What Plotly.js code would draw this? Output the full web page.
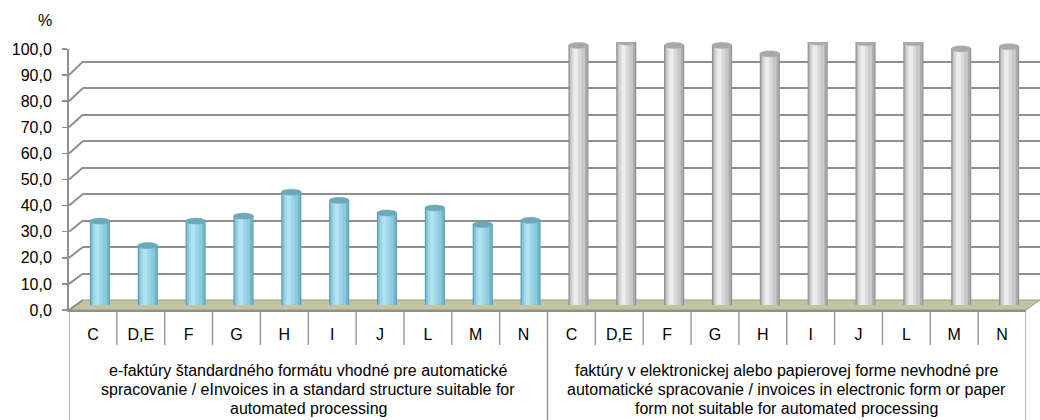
<!DOCTYPE html>
<html>
<head>
<meta charset="utf-8">
<script src="https://cdn.plot.ly/plotly-3.0.1.min.js"></script>
<style>html,body{margin:0;padding:0;background:#fff;}#chart{width:1040px;height:420px;}</style>
</head>
<body>
<div id="chart"></div>
<script>
// ---- data ----
const categories = ['C', 'D,E', 'F', 'G', 'H', 'I', 'J', 'L', 'M', 'N'];
const groupLabels = [
  'e-faktúry štandardného formátu vhodné pre automatické<br>spracovanie / eInvoices in a standard structure suitable for<br>automated processing',
  'faktúry v elektronickej alebo papierovej forme nevhodné pre<br>automatické spracovanie / invoices in electronic form or paper<br>form not suitable for automated processing'
];
const suitable    = [31.9, 22.6, 31.9, 33.8, 42.9, 39.8, 35.0, 36.9, 30.6, 32.2];
const notSuitable = [98.7, 100.0, 98.7, 98.7, 95.5, 100.0, 99.8, 99.8, 97.4, 98.2];
const yTicks = [0, 10, 20, 30, 40, 50, 60, 70, 80, 90, 100];
const yAxisLabel = '%';

// ---- layout geometry ----
const W = 1040, H = 420;
const L = 69, R = 0, T = 35, B = 110;
const PW = W - L - R, PH = H - T - B;   // 971 x 275
const FONT = 'Arial, "Liberation Sans", sans-serif';
const GRID = '#8f8f8f';

const nCat = categories.length;
const xsA = categories.map((_, i) => i);
const xsB = categories.map((_, i) => i + nCat);
const allX = xsA.concat(xsB);
const allText = categories.concat(categories);
const xRange = [-0.5, 2 * nCat - 0.5];

const traces = [];
// cylinder shading layers: [width, offset]
const layers = [[0.42, -0.21], [0.38, -0.19], [0.31, -0.17], [0.20, -0.14], [0.09, -0.10]];
function cylinder(xs, ys, colors) {
  layers.forEach((ly, k) => {
    traces.push({type: 'bar', x: xs, y: ys, xaxis: 'x2', yaxis: 'y2', width: ly[0], offset: ly[1],
      marker: {color: colors[k], line: {width: 0}}, hoverinfo: 'skip', showlegend: false});
  });
}
cylinder(xsA, suitable, ['#5d9cb0', '#74b5c9', '#8acbde', '#9cd6e7', '#b0e2ef']);
cylinder(xsB, notSuitable, ['#8e8e8e', '#ababab', '#c8c8c8', '#dadada', '#ececec']);

// dummy traces to activate back wall & front axes
traces.push({type: 'scatter', x: [0], y: [0], xaxis: 'x', yaxis: 'y', mode: 'markers',
  marker: {opacity: 0}, hoverinfo: 'skip', showlegend: false});
traces.push({type: 'scatter', x: [0], y: [0], xaxis: 'x3', yaxis: 'y3', mode: 'markers',
  marker: {opacity: 0}, hoverinfo: 'skip', showlegend: false});

const shapes = [];
// floor (3D base)
shapes.push({type: 'path', xref: 'paper', yref: 'paper', layer: 'below',
  path: `M 0 0 L ${957/PW} 0 L 1 ${10/PH} L ${14/PW} ${10/PH} Z`,
  fillcolor: '#c5c4a0', line: {color: '#9a9a8a', width: 1}});
// connectors from front axis to back wall
yTicks.forEach(v => {
  shapes.push({type: 'line', xref: 'paper', yref: 'y3', ysizemode: 'pixel', yanchor: v,
    x0: 0, x1: 14 / PW, y0: 0, y1: 10 + 0.04 * v, line: {color: GRID, width: 2}});
});
// cylinder top and bottom ellipses
function caps(xs, ys, body, top) {
  xs.forEach((x, i) => {
    shapes.push({type: 'circle', xref: 'x2', yref: 'y2', ysizemode: 'pixel', yanchor: 0, layer: 'below',
      x0: x - 0.21, x1: x + 0.21, y0: -3, y1: 3, fillcolor: body, line: {width: 0}});
    shapes.push({type: 'circle', xref: 'x2', yref: 'y2', ysizemode: 'pixel', yanchor: ys[i],
      x0: x - 0.21, x1: x + 0.21, y0: -3, y1: 3, fillcolor: top, line: {color: top, width: 0.5}});
  });
}
caps(xsA, suitable, '#7bbccf', '#6aa8ba');
caps(xsB, notSuitable, '#b8b8b8', '#a9a9a9');
// label grid: dividers between categories and group borders
for (let k = 0; k <= 2 * nCat; k++) {
  const xv = k - 0.5;
  const full = (k % nCat === 0);
  shapes.push({type: 'line', xref: 'x3', yref: 'paper', x0: xv, x1: xv,
    y0: 0, y1: full ? -(B + 2) / PH : -35 / PH, line: {color: GRID, width: 1.3}});
}

const annotations = [];
const lineY = [370, 389, 408];
groupLabels.forEach((t, g) => {
  t.split('<br>').forEach((line, j) => {
    annotations.push({xref: 'x3', yref: 'paper', x: g * nCat + (nCat - 1) / 2, y: (310 - lineY[j]) / PH,
      text: line, showarrow: false, align: 'center', xanchor: 'center', yanchor: 'middle',
      font: {family: FONT, size: 16, color: '#000'}});
  });
});
annotations.push({xref: 'paper', yref: 'paper', x: -24 / PW, y: 1 + 15 / PH, text: yAxisLabel,
  showarrow: false, xanchor: 'center', yanchor: 'middle', font: {family: FONT, size: 16, color: '#000'}});

const hidden = {showgrid: false, zeroline: false, showline: false, showticklabels: false, ticks: '', fixedrange: true};

const layout = {
  width: W, height: H,
  margin: {l: L, r: R, t: T, b: B, pad: 0},
  paper_bgcolor: '#fff', plot_bgcolor: 'rgba(0,0,0,0)',
  barmode: 'overlay',
  separators: ', ',
  showlegend: false,
  font: {family: FONT, size: 16, color: '#000'},
  // back wall
  xaxis: Object.assign({}, hidden, {domain: [14 / PW, 1], range: xRange, anchor: 'y'}),
  yaxis: Object.assign({}, hidden, {domain: [10 / PH, 1], range: [0, 100], anchor: 'x',
    showgrid: true, gridcolor: GRID, gridwidth: 2, tickvals: yTicks}),
  // middle plane (bars)
  xaxis2: Object.assign({}, hidden, {domain: [7 / PW, 964 / PW], range: xRange, anchor: 'y2'}),
  yaxis2: Object.assign({}, hidden, {domain: [5 / PH, 268 / PH], range: [0, 100], anchor: 'x2'}),
  // front plane (axes and labels)
  xaxis3: {domain: [0, 957 / PW], range: xRange, anchor: 'y3', showgrid: false, zeroline: false,
    showline: true, linecolor: GRID, linewidth: 1.5,
    tickmode: 'array', tickvals: allX, ticktext: allText,
    ticks: 'outside', ticklen: 9, tickcolor: 'rgba(0,0,0,0)',
    tickfont: {family: FONT, size: 16, color: '#000'}, fixedrange: true},
  yaxis3: {domain: [0, 261 / PH], range: [0, 100], anchor: 'x3', showgrid: false, zeroline: false,
    showline: true, linecolor: GRID, linewidth: 2,
    tickmode: 'array', tickvals: yTicks, tickformat: '.1f',
    ticks: 'outside', ticklen: 5, tickcolor: GRID, tickwidth: 1.5, ticklabelstandoff: 7,
    tickfont: {family: FONT, size: 16, color: '#000'}, fixedrange: true},
  shapes: shapes,
  annotations: annotations
};

Plotly.newPlot('chart', traces, layout, {displayModeBar: false, staticPlot: true});
</script>
</body>
</html>
